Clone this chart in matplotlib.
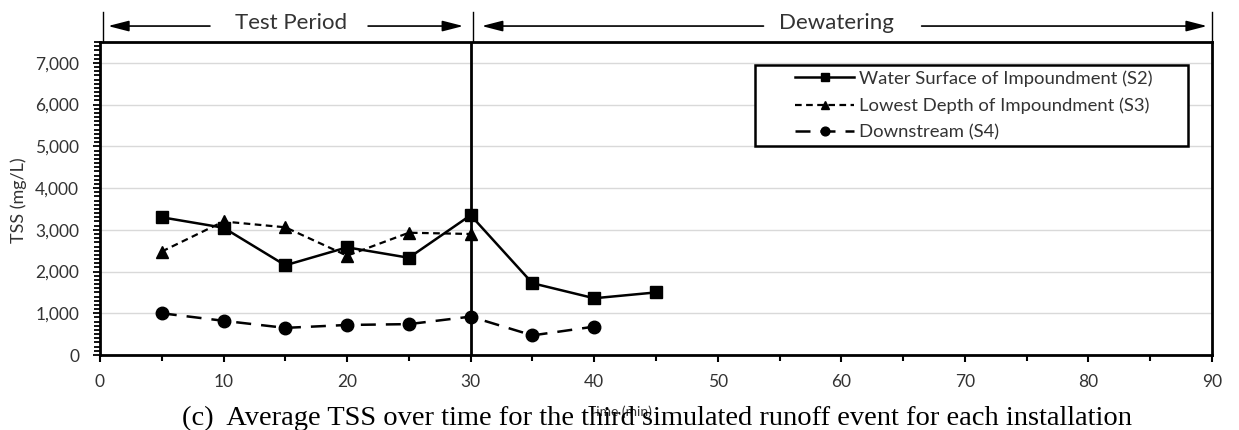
import numpy as np
import matplotlib.pyplot as plt
from matplotlib.ticker import MultipleLocator, FuncFormatter
from matplotlib.patches import Rectangle

# data
t_s2 = [5, 10, 15, 20, 25, 30, 35, 40, 45]
tss_s2 = [3300, 3050, 2150, 2580, 2330, 3350, 1720, 1360, 1500]

t_s3 = [5, 10, 15, 20, 25, 30]
tss_s3 = [2480, 3200, 3060, 2380, 2930, 2900]

t_s4 = [5, 10, 15, 20, 25, 30, 35, 40]
tss_s4 = [1000, 820, 650, 720, 740, 920, 470, 680]

labels = ["Water Surface of Impoundment (S2)",
          "Lowest Depth of Impoundment (S3)",
          "Downstream (S4)"]

plt.rcParams["font.family"] = ["Lato", "DejaVu Sans"]
txt_col = "#333333"

fig = plt.figure(figsize=(12.39, 4.30), dpi=100)
ax = fig.add_axes([0.0807, 0.1744, 0.8975, 0.7279])

ax.plot(t_s2, tss_s2, color="black", lw=1.8, marker="s", ms=9,
        label=labels[0], zorder=4)
ax.plot(t_s3, tss_s3, color="black", lw=1.6, marker="^", ms=9,
        dashes=(3, 2), label=labels[1], zorder=4)
ax.plot(t_s4, tss_s4, color="black", lw=1.8, marker="o", ms=9,
        dashes=(6, 4), label=labels[2], zorder=4)

ax.set_xlim(0, 90)
ax.set_ylim(0, 7500)
ax.xaxis.set_major_locator(MultipleLocator(10))
ax.xaxis.set_minor_locator(MultipleLocator(5))
ax.set_yticks(np.arange(0, 7001, 1000))
ax.yaxis.set_minor_locator(MultipleLocator(100))
ax.yaxis.set_major_formatter(FuncFormatter(lambda v, p: f"{int(v):,}"))
ax.tick_params(axis="both", labelsize=12.5, labelcolor=txt_col, direction="out")
ax.tick_params(axis="x", which="major", length=5, width=1.5, pad=9)
ax.tick_params(axis="x", which="minor", length=4, width=1.5)
ax.tick_params(axis="y", which="major", length=5, width=1.3, pad=10)
ax.tick_params(axis="y", which="minor", length=4, width=1.3)

ax.grid(axis="y", color="#d9d9d9", lw=1)
ax.set_axisbelow(True)
for s in ax.spines.values():
    s.set_linewidth(2)

ax.axvline(30, color="black", lw=2, zorder=3)

ax.set_ylabel("TSS (mg/L)", fontsize=13, color=txt_col)
ax.yaxis.set_label_coords(-0.066, 0.495)

# legend with an Excel-style wide box
ax.add_patch(Rectangle((0.589, 0.668), 0.389, 0.258, transform=ax.transAxes,
                       fill=True, facecolor="white", edgecolor="black",
                       lw=1.8, zorder=5))
leg = ax.legend(loc="upper left", bbox_to_anchor=(0.625, 0.91), frameon=False,
                fontsize=13.3, handlelength=3.2, handletextpad=0.28,
                labelspacing=0.58, borderpad=0, borderaxespad=0,
                markerscale=0.7)
leg.set_zorder(6)
for t in leg.get_texts():
    t.set_color(txt_col)

# period annotations above the plot
tr = ax.get_xaxis_transform()
for xv in [0.24, 30.15, 90]:
    ax.plot([xv, xv], [1.0, 1.096], transform=tr, color="black", lw=1,
            clip_on=False)
arrow = dict(arrowstyle="-|>,head_length=0.7,head_width=0.18", color="black",
             lw=1.2, mutation_scale=18, shrinkA=0, shrinkB=0)
for tip, tail in [(0.65, 8.9), (29.4, 21.7), (30.9, 53.7), (89.6, 66.5)]:
    ax.annotate("", xy=(tip, 1.051), xytext=(tail, 1.051), xycoords=tr,
                textcoords=tr, arrowprops=arrow)
ax.text(15.5, 1.062, "Test Period", transform=tr, ha="center", va="center",
        fontsize=16, color=txt_col)
ax.text(59.6, 1.062, "Dewatering", transform=tr, ha="center", va="center",
        fontsize=16, color=txt_col)

fig.text(0.5, 0.042, "Time (min)", ha="center", va="center", fontsize=10,
         color=txt_col)
fig.text(0.53, 0.012,
         "(c)  Average TSS over time for the third simulated runoff event for each installation",
         ha="center", va="baseline", fontsize=20.5, family="Liberation Serif")

fig.savefig("out.png", dpi=100)
